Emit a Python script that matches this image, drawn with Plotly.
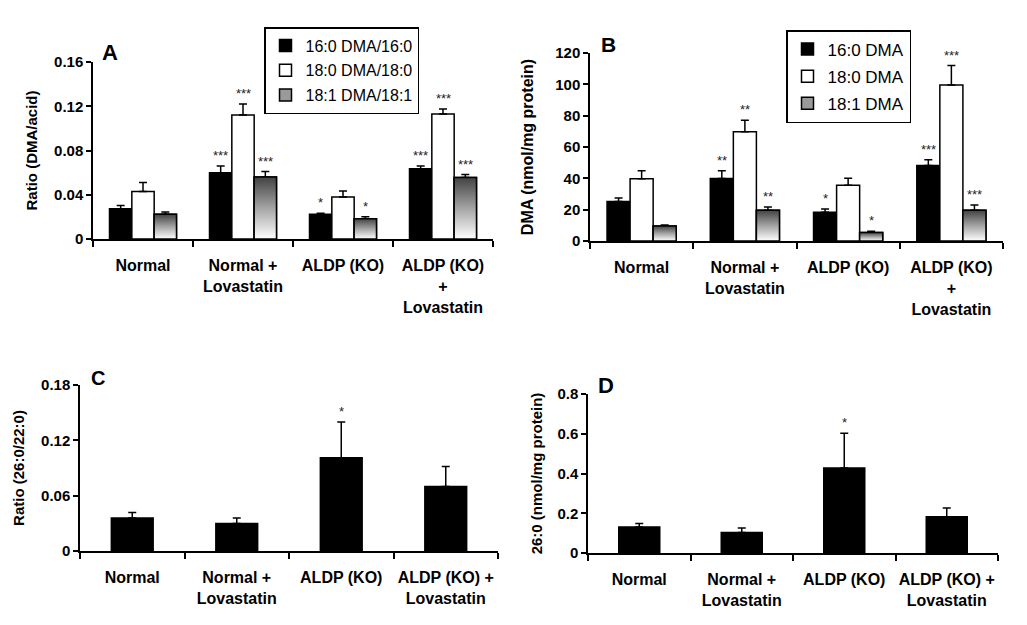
import plotly.graph_objects as go

# ---------------- data ----------------
categories_ab = ["Normal", "Normal +<br>Lovastatin", "ALDP (KO)", "ALDP (KO)<br>+<br>Lovastatin"]
categories_cd = ["Normal", "Normal +<br>Lovastatin", "ALDP (KO)", "ALDP (KO) +<br>Lovastatin"]

# Panel A: Ratio (DMA/acid)
a_names = ["16:0 DMA/16:0", "18:0 DMA/18:0", "18:1 DMA/18:1"]
a_160 = [0.0274, 0.0600, 0.0223, 0.0636]
a_160_err = [0.0028, 0.0060, 0.0010, 0.0025]
a_180 = [0.0430, 0.1120, 0.0380, 0.1130]
a_180_err = [0.0080, 0.0100, 0.0055, 0.0045]
a_181 = [0.0223, 0.0560, 0.0184, 0.0557]
a_181_err = [0.0022, 0.0050, 0.0018, 0.0025]
a_stars_160 = ["", "***", "*", "***"]
a_stars_180 = ["", "***", "", "***"]
a_stars_181 = ["", "***", "*", "***"]

# Panel B: DMA (nmol/mg protein)
b_names = ["16:0 DMA", "18:0 DMA", "18:1 DMA"]
b_160 = [25.2, 39.9, 18.3, 48.2]
b_160_err = [2.3, 4.9, 2.2, 3.6]
b_180 = [39.7, 69.7, 35.6, 99.6]
b_180_err = [5.1, 7.3, 4.5, 12.4]
b_181 = [9.6, 19.6, 5.5, 19.6]
b_181_err = [0.6, 2.1, 0.7, 3.4]
b_stars_160 = ["", "**", "*", "***"]
b_stars_180 = ["", "**", "", "***"]
b_stars_181 = ["", "**", "*", "***"]

# Panel C: Ratio (26:0/22:0)
c_vals = [0.0359, 0.0297, 0.101, 0.070]
c_err = [0.0058, 0.0062, 0.039, 0.0216]
c_stars = ["", "", "*", ""]

# Panel D: 26:0 (nmol/mg protein)
d_vals = [0.131, 0.103, 0.428, 0.182]
d_err = [0.017, 0.023, 0.175, 0.045]
d_stars = ["", "", "*", ""]

# ---------------- style / layout ----------------
W, H = 1027, 625
FONT = "Arial, Liberation Sans, sans-serif"
BARGAP = 0.33
GROUP_W = (1 - BARGAP) / 3.0
SINGLE_W = 0.40
GRAD = [[0, "#ffffff"], [0.5, "#a4a4a4"], [1, "#424242"]]


def px_x(p):
    return p / W


def px_y(p):
    return 1 - p / H


# pixel boxes (left, right, top, bottom) of each plot area
boxes = {
    "A": (93, 493, 62, 239),
    "B": (590, 1003, 53, 241),
    "C": (80, 498, 385, 551),
    "D": (588, 998, 394, 553),
}

fig = go.Figure()
idx = list(range(4))


def add_group(panel, xa, ya, names, vals, errs, legend):
    colors = ["#000000", "#ffffff", "#9a9a9a"]
    for k in range(3):
        fig.add_trace(go.Bar(
            x=idx, y=vals[k], name=names[k], xaxis=xa, yaxis=ya,
            marker=dict(color=colors[k], line=dict(color="black", width=1.5)),
            error_y=dict(type="data", array=errs[k], arrayminus=[0] * 4, symmetric=False,
                         color="black", thickness=1.5, width=4),
            legend=legend, legendgroup=panel + str(k), showlegend=True,
        ))
    # gradient overlay for the third series
    for i in idx:
        x0 = i + 0.5 * GROUP_W
        x1 = i + 1.5 * GROUP_W
        v = vals[2][i]
        fig.add_trace(go.Scatter(
            x=[x0, x0, x1, x1, x0], y=[0, v, v, 0, 0], xaxis=xa, yaxis=ya,
            mode="lines", fill="toself",
            fillgradient=dict(type="vertical", colorscale=GRAD, start=0, stop=v),
            line=dict(color="black", width=1.5), showlegend=False, hoverinfo="skip",
        ))


def add_stars(xref, yref, xs, vals, errs, stars):
    for x, v, e, s in zip(xs, vals, errs, stars):
        if s:
            fig.add_annotation(x=x, y=v + e, xref=xref, yref=yref, text=s, showarrow=False,
                               yanchor="bottom", yshift=1,
                               font=dict(family=FONT, size=13, color="#222222"))


# Panel A
add_group("A", "x", "y", a_names, [a_160, a_180, a_181], [a_160_err, a_180_err, a_181_err], "legend")
for k, (vals, errs, st) in enumerate([(a_160, a_160_err, a_stars_160), (a_180, a_180_err, a_stars_180),
                                      (a_181, a_181_err, a_stars_181)]):
    add_stars("x", "y", [i + (k - 1) * GROUP_W for i in idx], vals, errs, st)

# Panel B
add_group("B", "x2", "y2", b_names, [b_160, b_180, b_181], [b_160_err, b_180_err, b_181_err], "legend2")
for k, (vals, errs, st) in enumerate([(b_160, b_160_err, b_stars_160), (b_180, b_180_err, b_stars_180),
                                      (b_181, b_181_err, b_stars_181)]):
    add_stars("x2", "y2", [i + (k - 1) * GROUP_W for i in idx], vals, errs, st)

# Panel C
fig.add_trace(go.Bar(x=idx, y=c_vals, xaxis="x3", yaxis="y3", width=SINGLE_W, showlegend=False,
                     marker=dict(color="black", line=dict(color="black", width=1.5)),
                     error_y=dict(type="data", array=c_err, arrayminus=[0] * 4, symmetric=False,
                                  color="black", thickness=1.5, width=4)))
add_stars("x3", "y3", idx, c_vals, c_err, c_stars)

# Panel D
fig.add_trace(go.Bar(x=idx, y=d_vals, xaxis="x4", yaxis="y4", width=SINGLE_W, showlegend=False,
                     marker=dict(color="black", line=dict(color="black", width=1.5)),
                     error_y=dict(type="data", array=d_err, arrayminus=[0] * 4, symmetric=False,
                                  color="black", thickness=1.5, width=4)))
add_stars("x4", "y4", idx, d_vals, d_err, d_stars)


def xaxis_cfg(box, anchor, cats):
    l, r, t, b = box
    return dict(domain=[px_x(l), px_x(r)], anchor=anchor, range=[-0.5, 3.5],
                tickmode="array", tickvals=idx, ticktext=cats, ticks="",
                showline=True, linecolor="black", linewidth=1.5, showgrid=False, zeroline=False,
                minor=dict(tickmode="array", tickvals=[-0.5, 0.5, 1.5, 2.5, 3.5], ticks="outside",
                           ticklen=6, tickwidth=1.5, tickcolor="black", showgrid=False),
                tickfont=dict(family=FONT, size=16, color="black", weight="bold"),
                ticklabelstandoff=11, automargin=False, fixedrange=True)


def yaxis_cfg(box, anchor, rng, dtick, title, tsize, standoff):
    l, r, t, b = box
    return dict(domain=[px_y(b), px_y(t)], anchor=anchor, range=rng, dtick=dtick, tick0=0,
                ticks="outside", ticklen=5, tickwidth=1.5, tickcolor="black",
                showline=True, linecolor="black", linewidth=1.5, showgrid=False, zeroline=False,
                tickfont=dict(family=FONT, size=15, color="black", weight="bold"),
                title=dict(text=title, standoff=standoff,
                           font=dict(family=FONT, size=tsize, color="black", weight="bold")),
                automargin=False, fixedrange=True)


legend_common = dict(bordercolor="black", borderwidth=1.5, bgcolor="white",
                     xanchor="left", yanchor="top", traceorder="grouped",
                     itemwidth=30, itemclick=False, itemdoubleclick=False)

fig.update_layout(
    width=W, height=H, margin=dict(l=0, r=0, t=0, b=0, pad=0, autoexpand=False),
    paper_bgcolor="white", plot_bgcolor="white",
    barmode="group", bargap=BARGAP, bargroupgap=0,
    font=dict(family=FONT, color="black"),
    xaxis=xaxis_cfg(boxes["A"], "y", categories_ab),
    yaxis=yaxis_cfg(boxes["A"], "x", [0, 0.16], 0.04, "Ratio (DMA/acid)", 15, 13),
    xaxis2=xaxis_cfg(boxes["B"], "y2", categories_ab),
    yaxis2=yaxis_cfg(boxes["B"], "x2", [0, 120], 20, "DMA (nmol/mg protein)", 16, 18),
    xaxis3=xaxis_cfg(boxes["C"], "y3", categories_cd),
    yaxis3=yaxis_cfg(boxes["C"], "x3", [0, 0.18], 0.06, "Ratio (26:0/22:0)", 15, 13),
    xaxis4=xaxis_cfg(boxes["D"], "y4", categories_cd),
    yaxis4=yaxis_cfg(boxes["D"], "x4", [0, 0.8], 0.2, "26:0 (nmol/mg protein)", 15, 11),
    legend=dict(x=px_x(264), y=px_y(27), font=dict(family=FONT, size=16, color="black"),
                tracegroupgap=1, **legend_common),
    legend2=dict(x=px_x(786), y=px_y(30), font=dict(family=FONT, size=17, color="black"),
                 tracegroupgap=2, **legend_common),
    showlegend=True,
)

# panel letters
for letter, (xp, yp, sz) in {"A": (110, 53, 22), "B": (608, 44, 21), "C": (98, 378, 20), "D": (606, 385, 22)}.items():
    fig.add_annotation(x=px_x(xp), y=px_y(yp), xref="paper", yref="paper", text=letter, showarrow=False,
                       xanchor="center", yanchor="middle",
                       font=dict(family=FONT, size=sz, color="black", weight="bold"))

fig.write_html("out.html", config={"displayModeBar": False},
               post_script="document.body.style.margin='0px';")
